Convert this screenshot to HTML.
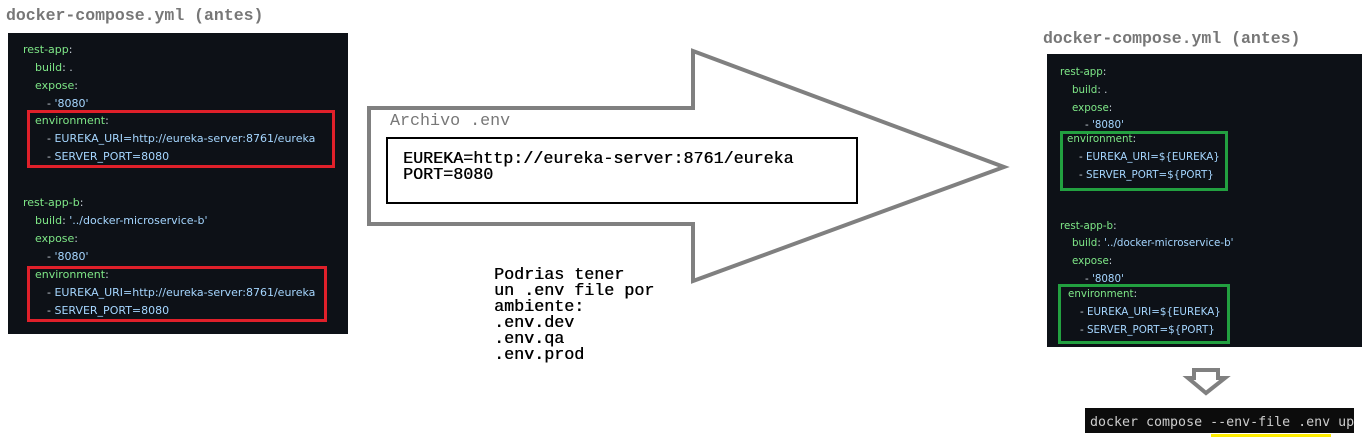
<!DOCTYPE html>
<html><head><meta charset="utf-8"><style>
body{margin:0;width:1362px;height:441px;background:#fff;position:relative;overflow:hidden;font-family:"Liberation Sans",sans-serif}
.a{position:absolute;white-space:pre}
.t{font-family:"Liberation Mono",monospace;font-weight:bold;color:#777;font-size:16.5px}
.p{position:absolute;background:#0d1117}
.c{position:absolute;font-family:"DejaVu Sans","Liberation Sans",sans-serif;font-size:11px;white-space:pre;line-height:12px}
.r{font-size:10.3px}
.g{color:#7ee787}.b{color:#a5d6ff}.w{color:#c9d1d9}
.m{font-family:"Liberation Mono",monospace;font-size:16.7px;color:#000;line-height:16px;text-shadow:0.4px 0 0 #000}
</style></head><body>
<div class="a t" style="left:6px;top:6px">docker-compose.yml (antes)</div>
<div class="p" style="left:8px;top:33px;width:340px;height:301px"></div>
<div class="c g" style="left:23px;top:44px">rest-app<span class="w">:</span></div>
<div class="c g" style="left:35px;top:62px">build<span class="w">: .</span></div>
<div class="c g" style="left:35px;top:80px">expose<span class="w">:</span></div>
<div class="c w" style="left:47px;top:98px">- <span class="b">'8080'</span></div>
<div class="c g" style="left:35px;top:115px">environment<span class="w">:</span></div>
<div class="c b" style="left:47px;top:133px"><span class="w">- </span>EUREKA_URI=http://eureka-server:8761/eureka</div>
<div class="c b" style="left:47px;top:151px"><span class="w">- </span>SERVER_PORT=8080</div>
<div class="c g" style="left:23px;top:197px">rest-app-b<span class="w">:</span></div>
<div class="c g" style="left:35px;top:215px">build<span class="w">: </span><span class="b">'../docker-microservice-b'</span></div>
<div class="c g" style="left:35px;top:233px">expose<span class="w">:</span></div>
<div class="c w" style="left:47px;top:251px">- <span class="b">'8080'</span></div>
<div class="c g" style="left:35px;top:269px">environment<span class="w">:</span></div>
<div class="c b" style="left:47px;top:287px"><span class="w">- </span>EUREKA_URI=http://eureka-server:8761/eureka</div>
<div class="c b" style="left:47px;top:305px"><span class="w">- </span>SERVER_PORT=8080</div>
<div class="a" style="left:27px;top:110px;width:302px;height:52px;border:3px solid #e0202a"></div>
<div class="a" style="left:27px;top:266px;width:294px;height:50px;border:3px solid #e0202a"></div>

<svg class="a" style="left:0;top:0" width="1362" height="441">
<polygon points="369,108 693,108 693,51 1004,167 693,281 693,224 369,224" fill="#fff" stroke="#808080" stroke-width="4"/>
<polygon points="1194,370 1218,370 1218,378 1225,378 1206,393 1188,378 1194,378" fill="#fff" stroke="#808080" stroke-width="4"/>
</svg>
<div class="a" style="left:390px;top:112px;font-family:'Liberation Mono',monospace;font-size:16.7px;color:#777">Archivo .env</div>
<div class="a" style="left:386px;top:137px;width:468px;height:63px;border:2px solid #000"></div>
<div class="a m" style="left:403px;top:152px">EUREKA=http://eureka-server:8761/eureka
PORT=8080</div>
<div class="a m" style="left:494px;top:268px">Podrias tener
un .env file por
ambiente:
.env.dev
.env.qa
.env.prod</div>

<div class="a t" style="left:1043px;top:29px">docker-compose.yml (antes)</div>
<div class="p" style="left:1047px;top:54px;width:315px;height:293px"></div>
<div class="c r g" style="left:1060px;top:66px">rest-app<span class="w">:</span></div>
<div class="c r g" style="left:1072px;top:84px">build<span class="w">: .</span></div>
<div class="c r g" style="left:1072px;top:102px">expose<span class="w">:</span></div>
<div class="c r w" style="left:1085px;top:119px">- <span class="b">'8080'</span></div>
<div class="c r g" style="left:1067px;top:133px">environment<span class="w">:</span></div>
<div class="c r b" style="left:1079px;top:151px"><span class="w">- </span>EUREKA_URI=${EUREKA}</div>
<div class="c r b" style="left:1079px;top:169px"><span class="w">- </span>SERVER_PORT=${PORT}</div>
<div class="c r g" style="left:1060px;top:220px">rest-app-b<span class="w">:</span></div>
<div class="c r g" style="left:1072px;top:237px">build<span class="w">: </span><span class="b">'../docker-microservice-b'</span></div>
<div class="c r g" style="left:1072px;top:255px">expose<span class="w">:</span></div>
<div class="c r w" style="left:1085px;top:273px">- <span class="b">'8080'</span></div>
<div class="c r g" style="left:1068px;top:288px">environment<span class="w">:</span></div>
<div class="c r b" style="left:1080px;top:306px"><span class="w">- </span>EUREKA_URI=${EUREKA}</div>
<div class="c r b" style="left:1080px;top:324px"><span class="w">- </span>SERVER_PORT=${PORT}</div>
<div class="a" style="left:1060px;top:131px;width:162px;height:54px;border:3px solid #22a040"></div>
<div class="a" style="left:1058px;top:284px;width:166px;height:54px;border:3px solid #22a040"></div>

<div class="a" style="left:1085px;top:408px;width:269px;height:25px;background:#0c0c0c"></div>
<div class="a" style="left:1090px;top:415px;font-family:'DejaVu Sans Mono',monospace;font-size:13.3px;color:#cccccc">docker compose --env-file .env up</div>
<div class="a" style="left:1211px;top:434px;width:120px;height:3px;background:#ffec00"></div>
</body></html>
